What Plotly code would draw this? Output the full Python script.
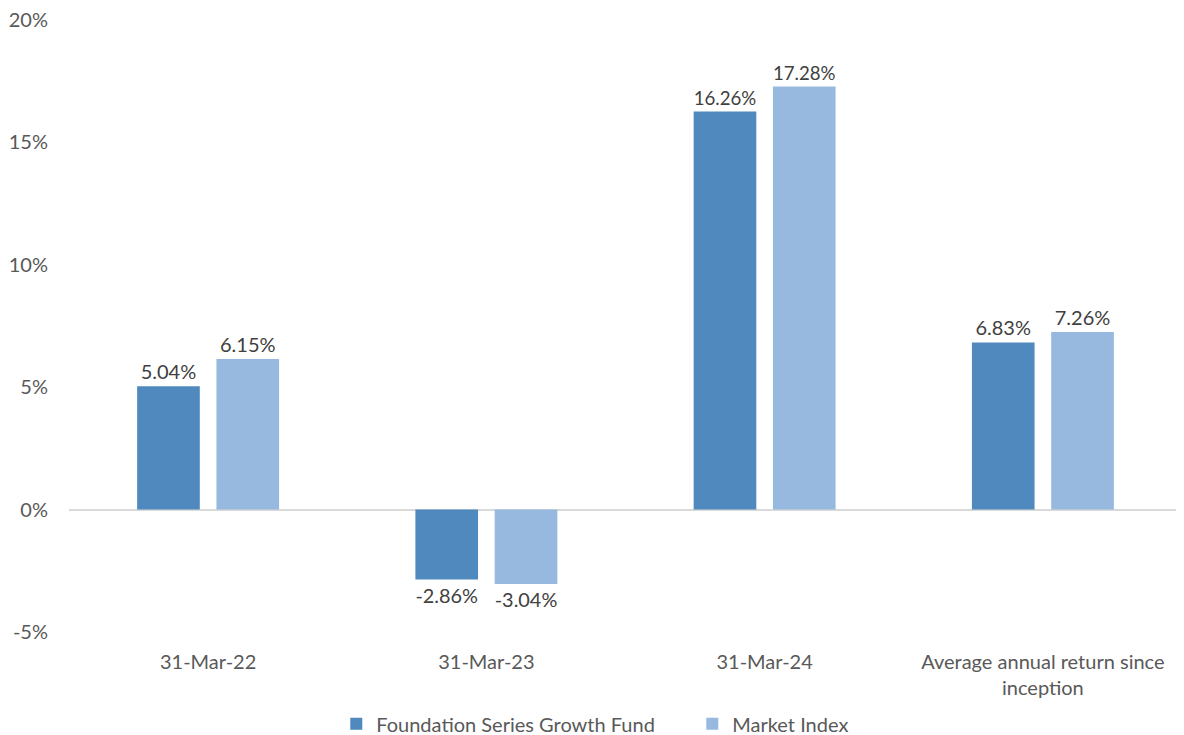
import plotly.graph_objects as go

categories = ["31-Mar-22", "31-Mar-23", "31-Mar-24", "Average annual return since<br>inception"]
fund_name = "Foundation Series Growth Fund"
index_name = "Market Index"
fund_values = [5.04, -2.86, 16.26, 6.83]
index_values = [6.15, -3.04, 17.28, 7.26]
y_ticks = [-5, 0, 5, 10, 15, 20]
y_tick_labels = ["-5%", "0%", "5%", "10%", "15%", "20%"]

FONT = "Lato, Calibri, Carlito, sans-serif"
TXT = "#595959"
SIZE = 20

fig = go.Figure()
fig.add_trace(go.Bar(
    name=fund_name, x=categories, y=fund_values,
    marker=dict(color="#4F89BD", line=dict(width=0)),
    text=[f"{v:.2f}%" for v in fund_values], textposition="outside",
    textfont=dict(family=FONT, size=SIZE, color="#404040"), cliponaxis=False,
))
fig.add_trace(go.Bar(
    name=index_name, x=categories, y=index_values,
    marker=dict(color="#97B9E0", line=dict(width=0)),
    text=[f"{v:.2f}%" for v in index_values], textposition="outside",
    textfont=dict(family=FONT, size=SIZE, color="#404040"), cliponaxis=False,
))

fig.update_layout(
    width=1176, height=727,
    margin=dict(l=61, r=2, t=12, b=103, autoexpand=False),
    paper_bgcolor="white", plot_bgcolor="white",
    barmode="group", bargap=0.43, bargroupgap=0.21,
    font=dict(family=FONT, size=SIZE, color=TXT),
    showlegend=True,
    legend=dict(orientation="h", x=0.56, xanchor="center", y=-0.15, yanchor="middle",
                font=dict(family=FONT, size=SIZE, color=TXT), itemwidth=30,
                entrywidth=311, traceorder="normal"),
    uniformtext=dict(mode=False),
)
fig.update_xaxes(showgrid=False, showline=False, zeroline=False, ticks="",
                 tickfont=dict(family=FONT, size=SIZE, color=TXT),
                 ticklabelstandoff=16, ticklabeloverflow="allow")
fig.update_yaxes(range=[-5, 20], tickvals=y_ticks, ticktext=y_tick_labels,
                 showgrid=False, showline=False, zeroline=True,
                 zerolinecolor="#D9D9D9", zerolinewidth=2,
                 tickfont=dict(family=FONT, size=SIZE, color=TXT),
                 ticklabelstandoff=20, ticklabeloverflow="allow")

fig.write_html("out.html")
